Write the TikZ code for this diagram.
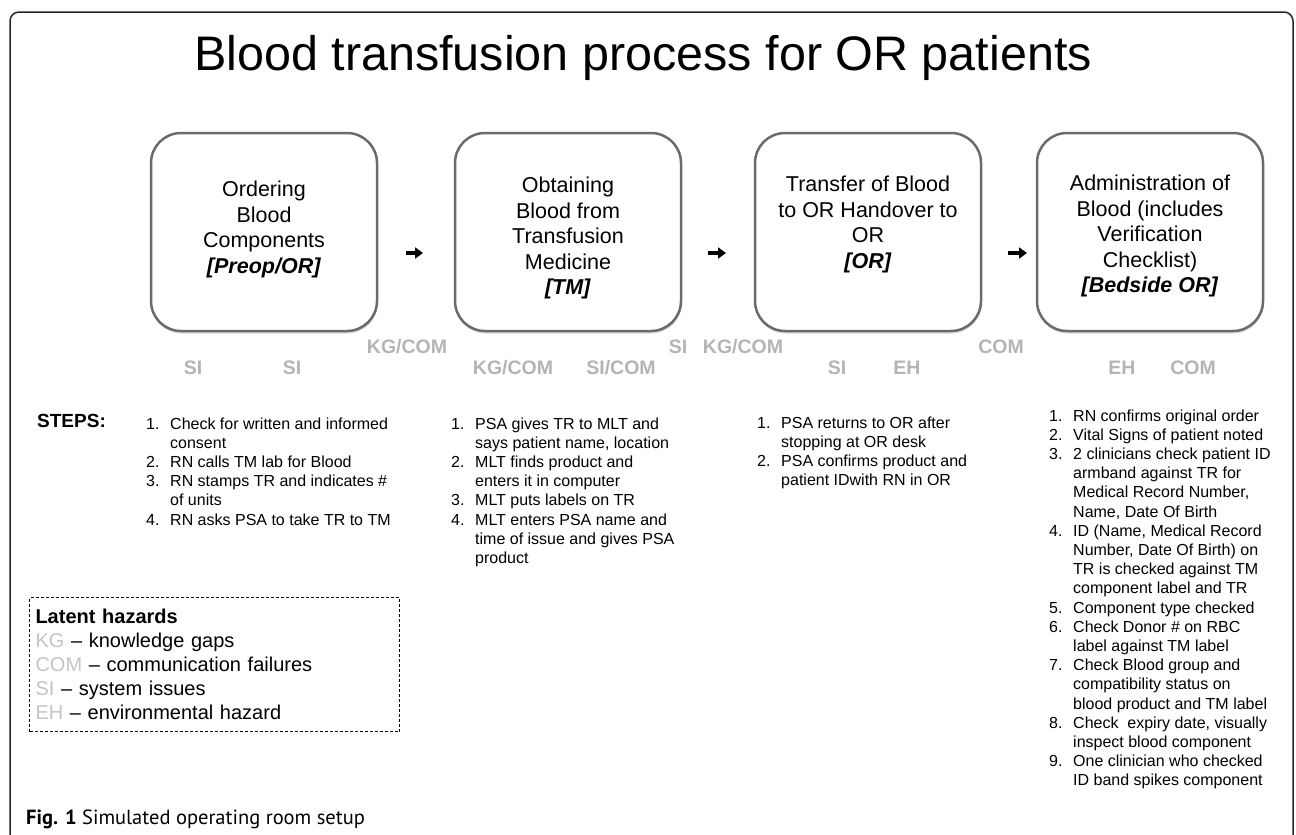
\documentclass[tikz,border=0pt]{standalone}
\usepackage{fontspec}
\setmainfont{Liberation Sans}
\newfontfamily\capfont{PT Sans}
\usetikzlibrary{positioning,shadows,arrows.meta}

\definecolor{boxgray}{HTML}{6B6B6B}
\definecolor{hazgray}{HTML}{B4B4B4}
\definecolor{keygray}{HTML}{C4C4C4}

\newcommand{\loc}[1]{\textbf{\textit{[#1]}}}
\newcommand{\hz}[1]{\textcolor{keygray}{#1}}
\newenvironment{steprows}{\begin{tabular}[t]{@{}p{24pt}@{}l@{}}}{\end{tabular}}

\tikzset{
  stage/.style={draw=boxgray, line width=2.5pt, rounded corners=30pt, fill=white,
    minimum width=226pt, minimum height=198pt, outer sep=0pt,
    drop shadow={shadow xshift=0.5pt, shadow yshift=-2.5pt, opacity=0.3}},
  stagetext/.style={align=center, inner sep=0pt, font=\fontsize{21.5}{25.5}\selectfont},
  hazard/.style={anchor=base, inner sep=0pt, text=hazgray, font=\bfseries\fontsize{19.5}{22}\selectfont},
  steplist/.style={anchor=base west, inner sep=0pt, font=\fontsize{16}{19.2}\selectfont},
  flow/.style={line width=3.5pt, -{Triangle[length=8pt,width=11pt]}},
}

\begin{document}
\begin{tikzpicture}[x=1pt,y=1pt,node distance=78pt]
    \useasboundingbox (0,0) rectangle (1296,-835);
    % outer frame
    \draw[line width=1.5pt, draw=black!85, rounded corners=9pt] (10,-850) rectangle (1293,-12);
    \node[anchor=base, inner sep=0pt, font=\fontsize{48.5}{58}\selectfont] (title) at (643,-70)
        {Blood transfusion process for OR patients};
    % process boxes
    \node[stage] (order) at (264,-232) {};
    \node[stage] (obtain) [right=78pt of order] {};
    \node[stage] (transfer) [right=74pt of obtain] {};
    \node[stage] (admin) [right=56pt of transfer] {};
    % box texts
    \node[stagetext, below=48pt of order.north] (ordertxt)
        {Ordering\\ Blood\\ Components\\ \loc{Preop/OR}};
    \node[stagetext, below=44pt of obtain.north] (obtaintxt)
        {Obtaining\\ Blood from\\ Transfusion\\ Medicine\\ \loc{TM}};
    \node[stagetext, below=43pt of transfer.north] (transfertxt)
        {Transfer of Blood\\ to OR Handover to\\ OR\\ \loc{OR}};
    \node[stagetext, below=42pt of admin.north] (admintxt)
        {Administration of\\ Blood (includes\\ Verification\\ Checklist)\\ \loc{Bedside OR}};
    % arrows between boxes
    \draw[flow, shorten <=29pt, shorten >=32pt] ([yshift=-21pt]order.east) -- ([yshift=-21pt]obtain.west);
    \draw[flow, shorten <=27pt, shorten >=29pt] ([yshift=-21pt]obtain.east) -- ([yshift=-21pt]transfer.west);
    \draw[flow, shorten <=27pt, shorten >=10pt] ([yshift=-21pt]transfer.east) -- ([yshift=-21pt]admin.west);
    % latent hazards under the boxes
    \node[hazard] (hz1) at (407,-353) {KG/COM};
    \node[hazard] (hz2) at (678,-353) {SI};
    \node[hazard] (hz3) at (743,-353) {KG/COM};
    \node[hazard] (hz4) at (1001,-353) {COM};
    \node[hazard] (hz5) at (193,-374) {SI};
    \node[hazard] (hz6) at (292,-374) {SI};
    \node[hazard] (hz7) at (513,-374) {KG/COM};
    \node[hazard] (hz8) at (621,-374) {SI/COM};
    \node[hazard] (hz9) at (837,-374) {SI};
    \node[hazard] (hz10) at (907,-374) {EH};
    \node[hazard] (hz11) at (1122,-374) {EH};
    \node[hazard] (hz12) at (1193,-374) {COM};
    % steps
    \node[anchor=base west, inner sep=0pt, font=\bfseries\fontsize{19}{22}\selectfont] (steps) at (37,-427) {STEPS:};
    \node[steplist] (list1) at (146,-429) {\begin{steprows}
        1. & Check for written and informed\\
           & consent\\
        2. & RN calls TM lab for Blood\\
        3. & RN stamps TR and indicates \#\\
           & of units\\
        4. & RN asks PSA to take TR to TM
        \end{steprows}};
    \node[steplist] (list2) at (451,-429) {\begin{steprows}
        1. & PSA gives TR to MLT and\\
           & says patient name, location\\
        2. & MLT finds product and\\
           & enters it in computer\\
        3. & MLT puts labels on TR\\
        4. & MLT enters PSA name and\\
           & time of issue and gives PSA\\
           & product
        \end{steprows}};
    \node[steplist] (list3) at (757,-428) {\begin{steprows}
        1. & PSA returns to OR after\\
           & stopping at OR desk\\
        2. & PSA confirms product and\\
           & patient IDwith RN in OR
        \end{steprows}};
    \node[steplist] (list4) at (1049,-421) {\begin{steprows}
        1. & RN confirms original order\\
        2. & Vital Signs of patient noted\\
        3. & 2 clinicians check patient ID\\
           & armband against TR for\\
           & Medical Record Number,\\
           & Name, Date Of Birth\\
        4. & ID (Name, Medical Record\\
           & Number, Date Of Birth) on\\
           & TR is checked against TM\\
           & component label and TR\\
        5. & Component type checked\\
        6. & Check Donor \# on RBC\\
           & label against TM label\\
        7. & Check Blood group and\\
           & compatibility status on\\
           & blood product and TM label\\
        8. & Check~ expiry date, visually\\
           & inspect blood component\\
        9. & One clinician who checked\\
           & ID band spikes component
        \end{steprows}};
    % legend
    \node[draw, line width=1pt, dash pattern=on 3pt off 2pt, anchor=north west, text width=358pt,
        inner xsep=6pt, inner ysep=0pt, minimum height=134pt, align=left,
        font=\fontsize{20}{24}\selectfont] (key) at (29,-597)
        {\textbf{Latent hazards}\\ \hz{KG} -- knowledge gaps\\ \hz{COM} -- communication failures\\
         \hz{SI} -- system issues\\ \hz{EH} -- environmental hazard};
    % caption
    \node[anchor=base west, inner sep=0pt, font=\capfont\fontsize{20.5}{24}\selectfont] (caption) at (26,-824)
        {\textbf{Fig. 1} Simulated operating room setup};
\end{tikzpicture}
\end{document}
